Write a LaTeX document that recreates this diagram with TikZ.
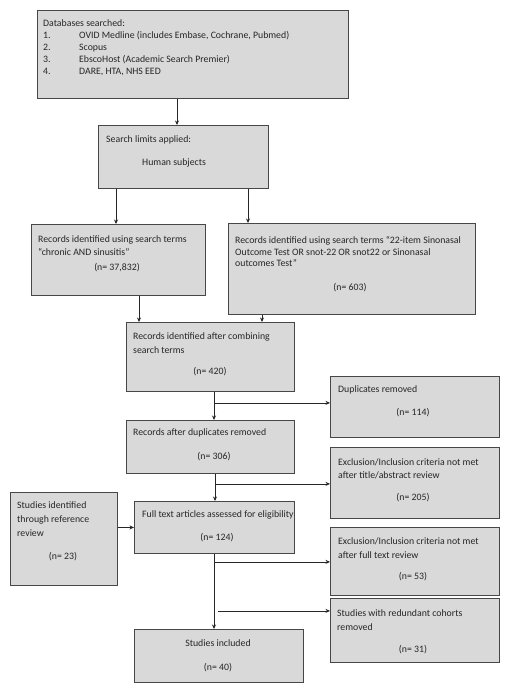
\documentclass[tikz,border=0pt]{standalone}
\usepackage{fontspec}
\setmainfont{Carlito}
\usetikzlibrary{arrows.meta}
\begin{document}
\begin{tikzpicture}[x=1pt,y=-1pt,
 box/.style={draw=black!72, fill=black!15, line width=0.9pt, anchor=north west, inner sep=0pt},
 txt/.style={font=\fontsize{9.8}{12.5}\selectfont, align=left, anchor=north west, inner sep=0pt, text=black!85},
 lbl/.style={font=\fontsize{9.8}{12.5}\selectfont, inner sep=0pt, text=black!85},
 arr/.style={draw=black!85, line width=0.8pt, -{Stealth[length=4.5pt,width=4pt]}},
 ln/.style={draw=black!85, line width=0.8pt}]
\useasboundingbox[fill=white] (0,0) rectangle (512,692);

% boxes
\node[box, minimum width=311pt, minimum height=88pt] (db) at (37,10) {};
\node[box, minimum width=170pt, minimum height=63pt] (lim) at (98,125) {};
\node[box, minimum width=174pt, minimum height=71pt] (chr) at (31,224) {};
\node[box, minimum width=247pt, minimum height=91pt] (snot) at (228,223) {};
\node[box, minimum width=168pt, minimum height=69pt] (comb) at (126,322) {};
\node[box, minimum width=169pt, minimum height=61pt] (dup) at (330,376) {};
\node[box, minimum width=168pt, minimum height=53pt] (after) at (126,420) {};
\node[box, minimum width=169pt, minimum height=71pt] (excla) at (330,447) {};
\node[box, minimum width=107pt, minimum height=93pt] (ref) at (10,492) {};
\node[box, minimum width=160pt, minimum height=52pt] (full) at (134,501) {};
\node[box, minimum width=169pt, minimum height=68pt] (exclb) at (330,527) {};
\node[box, minimum width=169pt, minimum height=64pt] (red) at (330,598) {};
\node[box, minimum width=169pt, minimum height=53pt] (inc) at (134,629) {};

% texts
\node[txt, font=\fontsize{9.8}{12}\selectfont] (tdb) at (43,19) {Databases searched:\\
\makebox[36pt][l]{1.}OVID Medline (includes Embase, Cochrane, Pubmed)\\
\makebox[36pt][l]{2.}Scopus\\
\makebox[36pt][l]{3.}EbscoHost (Academic Search Premier)\\
\makebox[36pt][l]{4.}DARE, HTA, NHS EED};
\node[lbl, anchor=west] (tlim) at (106,140) {Search limits applied:};
\node[lbl, anchor=west] (tlimb) at (142,163) {Human subjects};

\node[txt, font=\fontsize{9.8}{13}\selectfont] (tchr) at (38,235) {Records identified using search terms\\“chronic AND sinusitis”};
\node[lbl] (nchr) at (117,268) {(n= 37,832)};

\node[txt, font=\fontsize{9.8}{11.8}\selectfont] (tsnot) at (235,236) {Records identified using search terms “22-item Sinonasal\\Outcome Test OR snot-22 OR snot22 or Sinonasal\\outcomes Test”};
\node[lbl] (nsnot) at (350,288) {(n= 603)};

\node[txt, font=\fontsize{9.8}{14}\selectfont] (tcomb) at (133,332) {Records identified after combining\\search terms};
\node[lbl] (ncomb) at (210,372) {(n= 420)};

\node[lbl, anchor=west] (tdup) at (338,390) {Duplicates removed};
\node[lbl] (ndup) at (413,413) {(n= 114)};

\node[lbl, anchor=west] (tafter) at (133,433) {Records after duplicates removed};
\node[lbl] (nafter) at (214,457) {(n= 306)};

\node[txt, font=\fontsize{9.8}{13}\selectfont] (texcla) at (338,458) {Exclusion/Inclusion criteria not met\\after title/abstract review};
\node[lbl] (nexcla) at (413,498) {(n= 205)};

\node[txt, font=\fontsize{9.8}{14}\selectfont] (tref) at (17,501) {Studies identified\\through reference\\review};
\node[lbl] (nref) at (63,557) {(n= 23)};

\node[lbl, anchor=west] (tfull) at (142,515) {Full text articles assessed for eligibility};
\node[lbl] (nfull) at (217,538) {(n= 124)};

\node[txt, font=\fontsize{9.8}{14}\selectfont] (texclb) at (338,537) {Exclusion/Inclusion criteria not met\\after full text review};
\node[lbl] (nexclb) at (413,577) {(n= 53)};

\node[txt, font=\fontsize{9.8}{14}\selectfont] (tred) at (337,609) {Studies with redundant cohorts\\removed};
\node[lbl] (nred) at (413,650) {(n= 31)};

\node[lbl] (tinc) at (218,643) {Studies included};
\node[lbl] (ninc) at (218,668) {(n= 40)};

% connectors
\draw[arr] ([xshift=140pt]db.south west) -- ([xshift=79pt]lim.north west);
\draw[arr] ([xshift=18pt]lim.south west) -- ([xshift=85pt]chr.north west);
\draw[arr] ([xshift=150pt]lim.south west) -- ([xshift=20pt]snot.north west);
\draw[arr] ([xshift=108pt]chr.south west) -- ([xshift=13pt]comb.north west);
\draw[arr] ([xshift=34pt]snot.south west) -- ([xshift=136pt]comb.north west);

\draw[arr] ([xshift=88pt]comb.south west) -- ([xshift=88pt]after.north west);
\coordinate (ba) at ([xshift=88pt,yshift=-11pt]comb.south west);
\draw[arr] (ba) -- (ba -| dup.west);

\draw[arr] ([xshift=89pt]after.south west) -- ([xshift=81pt]full.north west);
\coordinate (bb) at ([xshift=89pt,yshift=-10pt]after.south west);
\draw[arr] (bb) -- (bb -| excla.west);

\draw[arr] (ref.east |- full.west) -- (full.west);

\draw[arr] ([xshift=80pt]full.south west) -- ([xshift=80pt]inc.north west);
\coordinate (bc) at ([xshift=80pt,yshift=-8pt]full.south west);
\draw[arr] (bc) -- (bc -| exclb.west);
\coordinate (bd) at ([xshift=84pt,yshift=-57pt]full.south west);
\draw[arr] (bd) -- (bd -| red.west);
\end{tikzpicture}
\end{document}
